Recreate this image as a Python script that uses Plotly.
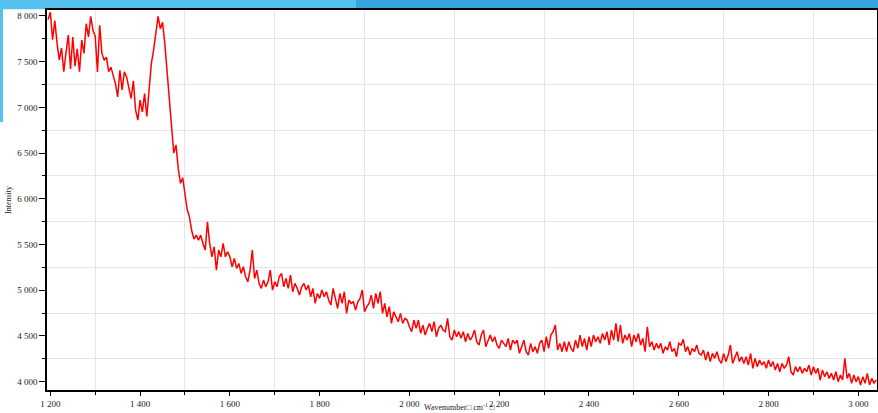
import plotly.graph_objects as go

wavenumber_start = 1195
wavenumber_step = 5

intensity_1195_1520 = [
    7960, 8040, 7740, 7950, 7700, 7520, 7650, 7390, 7600, 7790,
    7420, 7770, 7450, 7640, 7390, 7735, 7590, 7915, 7770, 7996,
    7843, 7780, 7388, 7898, 7590, 7515, 7550, 7390, 7440, 7333,
    7260, 7115, 7406, 7190, 7390, 7330, 7220, 7097, 7290, 6969,
    6860, 7080, 6950, 7150, 6900, 7206, 7479, 7625, 7807, 7996,
    7860, 7930, 7700, 7400, 7100, 6850, 6500, 6590, 6330, 6170,
    6230, 6050, 5880, 5800, 5650, 5560,
]
intensity_1525_1870 = [
    5603, 5548, 5603, 5512, 5439, 5749, 5512, 5366, 5476, 5220,
    5439, 5366, 5512, 5366, 5421, 5366, 5257, 5348, 5239, 5293,
    5184, 5257, 5148, 5093, 5220, 5439, 5129, 5220, 5075, 5020,
    5111, 5038, 5093, 5220, 5002, 5093, 5038, 5148, 5184, 5038,
    5129, 5020, 5166, 4984, 5075, 5020, 4947, 5038, 5075, 5002,
    5057, 4929, 5020, 4856, 4965, 4911, 5002, 4929, 4984, 4893,
    4838, 5020, 4893, 4802, 4965, 4856, 4984, 4747, 4893, 4856,
]
intensity_1875_2230 = [
    4874, 4783, 4874, 4911, 5002, 4765, 4820, 4856, 4947, 4802,
    4966, 4856, 4984, 4747, 4856, 4710, 4820, 4638, 4765, 4710,
    4656, 4747, 4638, 4692, 4674, 4601, 4547, 4674, 4583, 4674,
    4528, 4619, 4510, 4583, 4638, 4547, 4656, 4492, 4583, 4619,
    4565, 4547, 4692, 4492, 4455, 4565, 4492, 4547, 4474, 4547,
    4437, 4528, 4455, 4492, 4565, 4437, 4401, 4510, 4565, 4383,
    4455, 4510, 4437, 4492, 4401, 4364, 4455, 4419, 4383, 4474,
    4346, 4455,
]
intensity_2235_2600 = [
    4419, 4455, 4310, 4383, 4455, 4328, 4292, 4419, 4328, 4383,
    4310, 4419, 4455, 4328, 4492, 4364, 4510, 4547, 4619, 4346,
    4419, 4328, 4437, 4328, 4437, 4364, 4328, 4455, 4364, 4510,
    4383, 4474, 4346, 4492, 4383, 4510, 4437, 4492, 4419, 4528,
    4455, 4547, 4401, 4565, 4455, 4637, 4437, 4619, 4419, 4510,
    4455, 4528, 4383, 4510, 4437, 4528, 4401, 4474, 4328, 4601,
    4383, 4437, 4346, 4419, 4364, 4419, 4310, 4383, 4346, 4437,
    4328, 4364, 4273, 4419,
]
intensity_2605_3040 = [
    4401, 4463, 4328, 4383, 4291, 4364, 4328, 4401, 4310, 4291,
    4346, 4237, 4328, 4219, 4310, 4255, 4328, 4237, 4200, 4310,
    4219, 4291, 4401, 4200, 4273, 4328, 4219, 4273, 4200, 4273,
    4182, 4310, 4146, 4255, 4164, 4237, 4182, 4219, 4146, 4237,
    4164, 4219, 4127, 4200, 4109, 4200, 4146, 4182, 4273, 4109,
    4073, 4164, 4109, 4164, 4091, 4146, 4109, 4182, 4073, 4164,
    4091, 4146, 4018, 4127, 4055, 4109, 4036, 4091, 4018, 4109,
    4000, 4073, 4018, 4255, 4036, 4091, 3982, 4073, 4000, 4055,
    3964, 4055, 3982, 4091, 3964, 4036, 3982, 4018,
]

intensity = (intensity_1195_1520 + intensity_1525_1870 + intensity_1875_2230
             + intensity_2235_2600 + intensity_2605_3040)
wavenumber = [wavenumber_start + wavenumber_step * i for i in range(len(intensity))]

x_range = [1192.6, 3041.6]
y_range = [3909, 8065]

W, H = 878, 413
ML, MR, MT, MB = 47, 1, 10, 23
pw, ph = W - ML - MR, H - MT - MB


def px(xp):
    return (xp - ML) / pw


def py(yp):
    return (H - MB - yp) / ph


serif = "Liberation Serif, Times New Roman, serif"

fig = go.Figure()
fig.add_trace(go.Scatter(
    x=wavenumber, y=intensity, mode="lines",
    line=dict(color="#ff0000", width=1.5),
    showlegend=False, hoverinfo="skip",
))

shapes = [
    dict(type="rect", xref="paper", yref="paper", layer="below",
         x0=px(0), x1=px(356), y0=py(9.3), y1=py(0),
         fillcolor="#55c1ef", line=dict(width=0)),
    dict(type="rect", xref="paper", yref="paper", layer="below",
         x0=px(356), x1=px(W), y0=py(9.3), y1=py(0),
         fillcolor="#37a3de", line=dict(width=0)),
    dict(type="rect", xref="paper", yref="paper", layer="below",
         x0=px(0), x1=px(3), y0=py(122), y1=py(0),
         fillcolor="#55c1ef", line=dict(width=0)),
]

axis_common = dict(
    showline=True, linecolor="#000000", linewidth=1.5, mirror=True,
    ticks="outside", tickcolor="#000000", tickwidth=1,
    showgrid=False, zeroline=False, separatethousands=True,
    automargin=False,
    tickfont=dict(family=serif, size=9, color="#222222"),
)

fig.update_layout(
    width=W, height=H,
    margin=dict(l=ML, r=MR, t=MT, b=MB, autoexpand=False),
    paper_bgcolor="#ffffff", plot_bgcolor="#ffffff",
    separators=". ",
    shapes=shapes,
    annotations=[dict(
        text="Wavenumber□ cm<sup>-1</sup> □", showarrow=False,
        xref="paper", yref="paper", x=px(459), y=py(413.5),
        xanchor="center", yanchor="bottom",
        font=dict(family=serif, size=8, color="#222222"),
    )],
    xaxis=dict(
        range=x_range, dtick=200, tick0=1200, ticklen=4,
        minor=dict(dtick=100, tick0=1200, ticks="outside", ticklen=3,
                   tickcolor="#000000", showgrid=True,
                   gridcolor="#e6e6e6", gridwidth=1),
        **axis_common,
    ),
    yaxis=dict(
        range=y_range, dtick=500, tick0=4000, ticklen=6,
        minor=dict(dtick=250, tick0=4000, ticks="outside", ticklen=3,
                   tickcolor="#000000", showgrid=True,
                   gridcolor="#e6e6e6", gridwidth=1),
        title=dict(text="Intensity", standoff=4,
                   font=dict(family=serif, size=8, color="#222222")),
        **axis_common,
    ),
)

fig.write_html(
    "out.html",
    config={"displayModeBar": False},
    post_script="document.body.style.margin='0';document.body.style.padding='0';",
)
